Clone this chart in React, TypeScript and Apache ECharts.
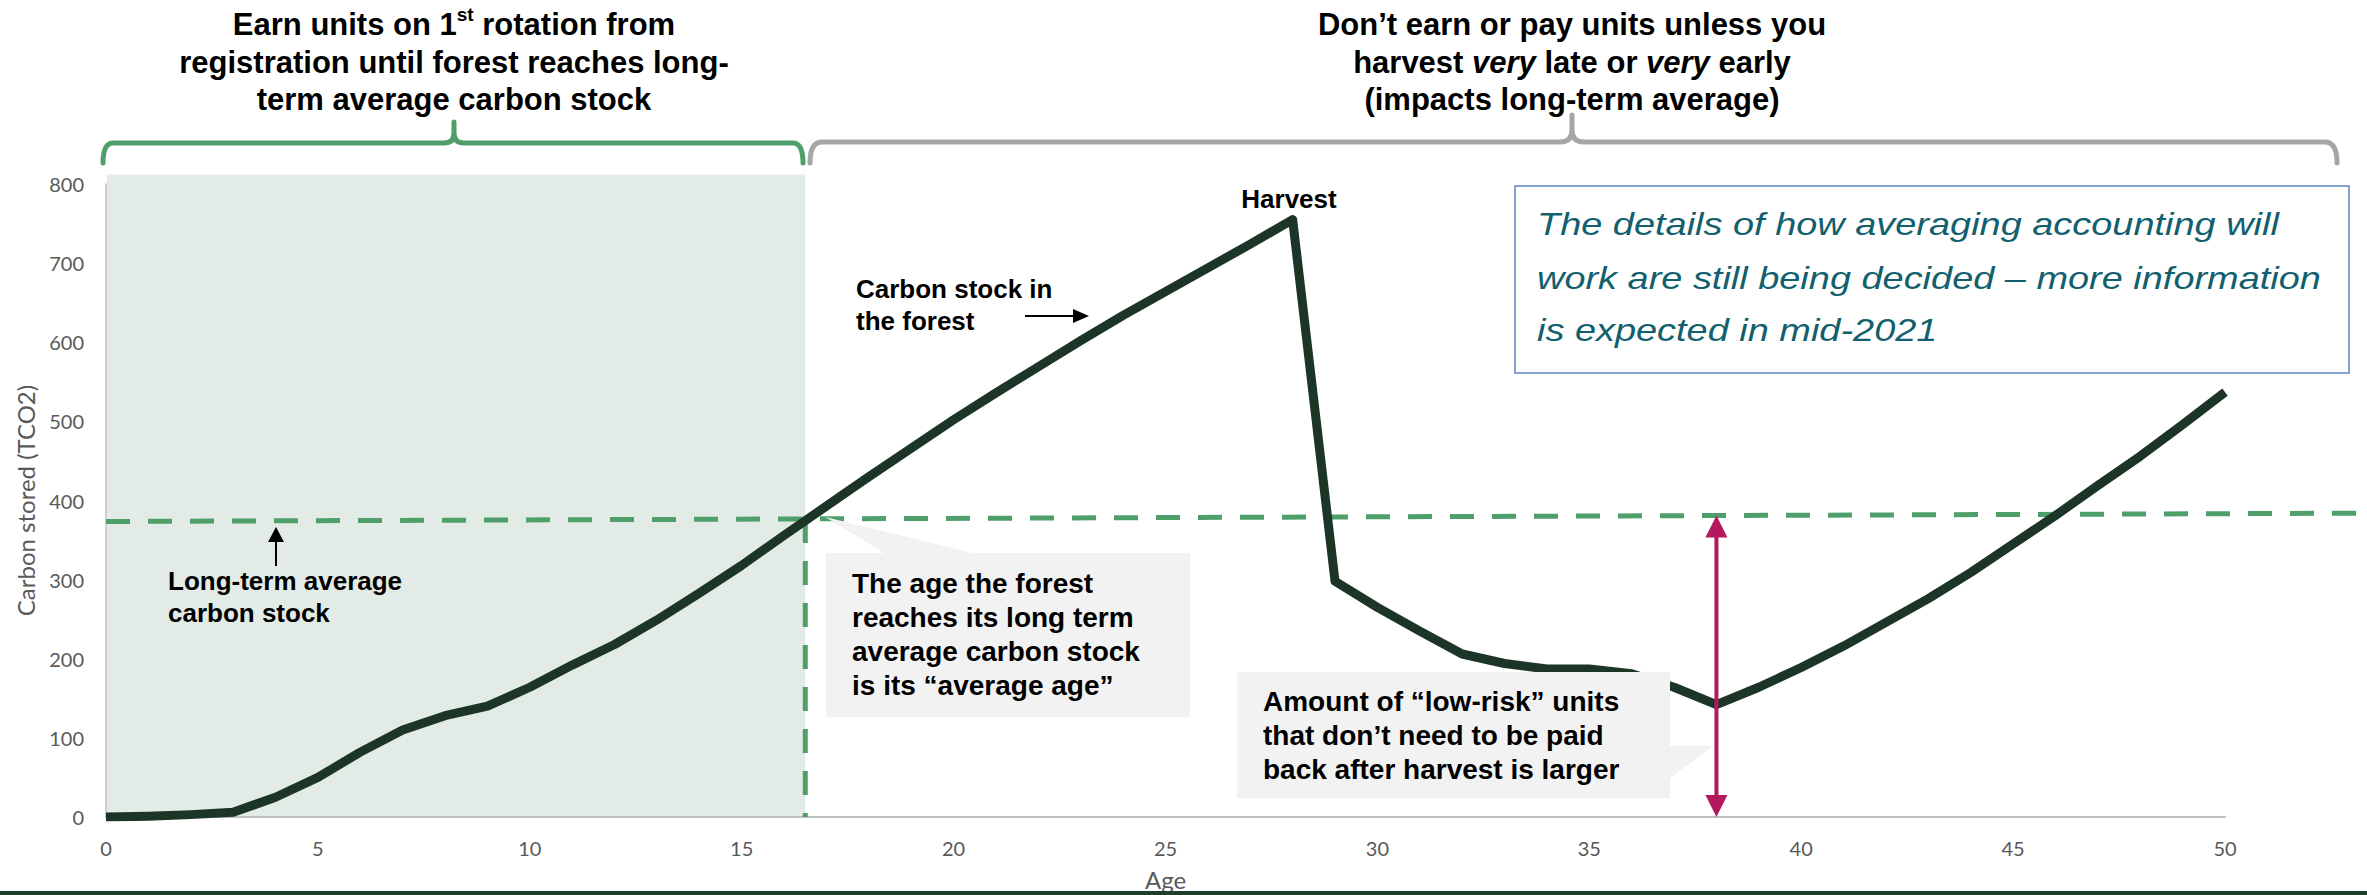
import React, { useEffect, useRef } from "react";
import * as echarts from "echarts";

// Forest age (years) and carbon stored (tCO2): first rotation, harvest at 28, regrowth
const ages = [
  0, 1, 2, 3, 4, 5, 6, 7, 8, 9, 10, 11, 12, 13, 14, 15, 16, 17, 18, 19, 20, 21, 22, 23, 24, 25,
  26, 27, 28, 29, 30, 31, 32, 33, 34, 35, 36, 37, 38, 39, 40, 41, 42, 43, 44, 45, 46, 47, 48, 49, 50,
];
const carbonStored = [
  0, 1, 3, 6, 25, 50, 82, 110, 128, 140, 164, 192, 218, 249, 283, 318, 356, 393, 430, 466, 502, 536,
  569, 602, 634, 664, 694, 724, 755, 298, 265, 235, 206, 194, 187, 187, 181, 164, 142, 164, 189, 216,
  246, 276, 309, 345, 381, 419, 456, 496, 537,
];

// Axis ticks
const xTicks = [0, 5, 10, 15, 20, 25, 30, 35, 40, 45, 50];
const yTicks = [0, 100, 200, 300, 400, 500, 600, 700, 800];

// Long-term average carbon stock line (runs past the last tick to the page edge)
const averageLineAges = [0, 53.4];
const averageLineValues = [373.5, 384];
// Age at which the forest reaches its long-term average carbon stock
const averageAge = 16.5;
// Top of the shaded "earning" period
const shadeTop = 812;
// Age of minimum carbon stock after harvest (low-risk units arrow)
const lowRiskAge = 38;

const averageAt = (age: number) =>
  averageLineValues[0] +
  ((averageLineValues[1] - averageLineValues[0]) * (age - averageLineAges[0])) /
    (averageLineAges[1] - averageLineAges[0]);

const SANS = "Liberation Sans, Arial, Helvetica, sans-serif";
const AXIS_FONT = "Lato, Calibri, sans-serif";
const GREEN = "#4f9f6b";
const GREY_BRACKET = "#a6a6a6";
const LINE_COLOR = "#1d3526";
const MAGENTA = "#b4195f";
const BOX_FILL = "#f2f2f2";
const NOTE_COLOR = "#12606e";

// Brackets above the chart
function bracketPath(x0: number, x1: number, xc: number, yh: number, yEnd: number, yTop: number, r: number) {
  return (
    `M${x0} ${yEnd} Q${x0} ${yh} ${x0 + r} ${yh} L${xc - r} ${yh} Q${xc} ${yh} ${xc} ${yh - r} L${xc} ${yTop} ` +
    `M${xc} ${yh - r} Q${xc} ${yh} ${xc + r} ${yh} L${x1 - r} ${yh} Q${x1} ${yh} ${x1} ${yEnd}`
  );
}
echarts.graphic.registerShape(
  "earnBracket",
  echarts.graphic.extendPath(bracketPath(103, 803, 454, 143, 163, 122, 10), {})
);
echarts.graphic.registerShape(
  "holdBracket",
  echarts.graphic.extendPath(bracketPath(810, 2337, 1572, 142, 163, 115, 12), {})
);

function text(
  x: number,
  y: number,
  content: string,
  o: { size: number; weight?: string; style?: string; color?: string; align?: string; rich?: any; scaleX?: number }
) {
  return {
    type: "text",
    x,
    y,
    z: 20,
    scaleX: o.scaleX ?? 1,
    style: {
      text: content,
      fill: o.color ?? "#000000",
      fontFamily: SANS,
      fontSize: o.size,
      fontWeight: o.weight ?? "bold",
      fontStyle: o.style ?? "normal",
      align: o.align ?? "left",
      textAlign: o.align ?? "left",
      verticalAlign: "middle",
      textVerticalAlign: "middle",
      rich: o.rich,
    },
  };
}

function noteLine(y: number, content: string) {
  return text(1537, y, content, { size: 32, weight: "normal", style: "italic", color: NOTE_COLOR, scaleX: 1.185 });
}

export default function App() {
  const ref = useRef<HTMLDivElement>(null);

  useEffect(() => {
    if (!ref.current) return;
    const chart = echarts.init(ref.current, undefined, { renderer: "svg" });

    const axisLabel = { color: "#595959", fontFamily: AXIS_FONT, fontSize: 20 };
    const dashed = { color: GREEN, width: 5, type: [24, 18], cap: "butt" };

    chart.setOption({
      animation: false,
      backgroundColor: "#ffffff",
      grid: { left: 106, right: 142, top: 184, bottom: 78, outerBoundsMode: "none" },
      xAxis: {
        type: "value",
        min: xTicks[0],
        max: xTicks[xTicks.length - 1],
        interval: xTicks[1] - xTicks[0],
        name: "Age",
        nameLocation: "middle",
        nameGap: 50,
        nameTextStyle: { color: "#595959", fontFamily: AXIS_FONT, fontSize: 24 },
        axisLine: { show: true, lineStyle: { color: "#bfbfbf", width: 2 } },
        axisTick: { show: false },
        splitLine: { show: false },
        axisLabel: { ...axisLabel, margin: 21 },
      },
      yAxis: {
        type: "value",
        min: yTicks[0],
        max: yTicks[yTicks.length - 1],
        interval: yTicks[1] - yTicks[0],
        name: "Carbon stored (TCO2)",
        nameLocation: "middle",
        nameGap: 69,
        nameTextStyle: { color: "#595959", fontFamily: AXIS_FONT, fontSize: 24 },
        axisLine: { show: true, lineStyle: { color: "#bfbfbf", width: 1.5 } },
        axisTick: { show: false },
        splitLine: { show: false },
        axisLabel: { ...axisLabel, margin: 22 },
      },
      series: [
        {
          name: "Average age",
          type: "line",
          data: [
            [averageAge, averageAt(averageAge)],
            [averageAge, 0],
          ],
          showSymbol: false,
          symbol: "none",
          silent: true,
          z: 3,
          lineStyle: dashed,
        },
        {
          name: "Carbon stock in the forest",
          type: "line",
          data: ages.map((a, i) => [a, carbonStored[i]]),
          showSymbol: false,
          symbol: "none",
          z: 4,
          lineStyle: { color: LINE_COLOR, width: 9, join: "round", cap: "butt" },
        },
      ],
    });

    // Linear data -> pixel mapping taken from the chart's own axes, so points
    // past the last tick can be placed too.
    const o = chart.convertToPixel({ gridIndex: 0 }, [0, 0]) as number[];
    const xRef = chart.convertToPixel({ gridIndex: 0 }, [xTicks[xTicks.length - 1], 0]) as number[];
    const yRef = chart.convertToPixel({ gridIndex: 0 }, [0, yTicks[yTicks.length - 1]]) as number[];
    const kx = (xRef[0] - o[0]) / xTicks[xTicks.length - 1];
    const ky = (yRef[1] - o[1]) / yTicks[yTicks.length - 1];
    const px = (x: number, y: number) => [o[0] + x * kx, o[1] + y * ky];

    const shadeA = px(0, shadeTop);
    const shadeB = px(averageAge, 0);
    const cross = px(averageAge, averageAt(averageAge));
    const avgStart = px(averageLineAges[0], averageLineValues[0]);
    const avgEnd = px(averageLineAges[1], averageLineValues[1]);
    const arrowTop = px(lowRiskAge, averageAt(lowRiskAge));
    const arrowBottom = px(lowRiskAge, 0);
    const head = 22;
    const halfHead = 11;

    const elements: any[] = [
      // shaded earning period
      {
        type: "rect",
        z: -1,
        silent: true,
        shape: { x: shadeA[0] + 1, y: shadeA[1], width: shadeB[0] - shadeA[0] - 1, height: shadeB[1] - shadeA[1] },
        style: { fill: "#e2ebe5" },
      },
      // long-term average carbon stock
      {
        type: "line",
        z: 3,
        silent: true,
        shape: { x1: avgStart[0], y1: avgStart[1], x2: avgEnd[0], y2: avgEnd[1] },
        style: { stroke: GREEN, lineWidth: 5, lineDash: [24, 18], lineCap: "butt" },
      },
      // brackets
      { type: "earnBracket", z: 20, style: { fill: "none", stroke: GREEN, lineWidth: 5, lineCap: "round" } },
      { type: "holdBracket", z: 20, style: { fill: "none", stroke: GREY_BRACKET, lineWidth: 5, lineCap: "round" } },

      // headings
      text(454, 24, "{n|Earn units on 1}{s|st}{n| rotation from}", {
        size: 31,
        align: "center",
        rich: {
          n: { fontFamily: SANS, fontSize: 31, fontWeight: "bold", fill: "#000", lineHeight: 38 },
          s: { fontFamily: SANS, fontSize: 19, fontWeight: "bold", fill: "#000", lineHeight: 19, verticalAlign: "top" },
        },
      }),
      text(454, 62, "registration until forest reaches long-", { size: 31, align: "center" }),
      text(454, 99, "term average carbon stock", { size: 31, align: "center" }),
      text(1572, 24, "Don’t earn or pay units unless you", { size: 31, align: "center" }),
      text(1572, 62, "{n|harvest }{i|very}{n| late or }{i|very}{n| early}", {
        size: 31,
        align: "center",
        rich: {
          n: { fontFamily: SANS, fontSize: 31, fontWeight: "bold", fill: "#000" },
          i: { fontFamily: SANS, fontSize: 31, fontWeight: "bold", fontStyle: "italic", fill: "#000" },
        },
      }),
      text(1572, 99, "(impacts long-term average)", { size: 31, align: "center" }),

      // note box
      {
        type: "rect",
        z: 18,
        shape: { x: 1515, y: 186, width: 834, height: 187 },
        style: { fill: "#ffffff", stroke: "#5b86c2", lineWidth: 1.5 },
      },
      noteLine(224, "The details of how averaging accounting will"),
      noteLine(277.5, "work are still being decided – more information"),
      noteLine(330, "is expected in mid-2021"),

      // harvest label
      text(1289, 199, "Harvest", { size: 26, align: "center" }),

      // carbon stock label and arrow
      text(856, 289, "Carbon stock in", { size: 26 }),
      text(856, 321, "the forest", { size: 26 }),
      { type: "line", z: 20, shape: { x1: 1025, y1: 316, x2: 1076, y2: 316 }, style: { stroke: "#000", lineWidth: 2 } },
      { type: "polygon", z: 20, shape: { points: [[1073, 309], [1089, 316], [1073, 323]] }, style: { fill: "#000" } },

      // long-term average label and arrow
      text(168, 581, "Long-term average", { size: 26 }),
      text(168, 612.6, "carbon stock", { size: 26 }),
      { type: "line", z: 20, shape: { x1: 276, y1: 566, x2: 276, y2: 540 }, style: { stroke: "#000", lineWidth: 2 } },
      { type: "polygon", z: 20, shape: { points: [[268, 542], [276, 527], [284, 542]] }, style: { fill: "#000" } },

      // average age callout
      {
        type: "polygon",
        z: 16,
        shape: { points: [[886, 554], [977, 554], [cross[0] + 20, cross[1] - 2]] },
        style: { fill: BOX_FILL },
      },
      { type: "rect", z: 16, shape: { x: 826, y: 553, width: 364, height: 164 }, style: { fill: BOX_FILL } },
      text(852, 583.5, "The age the forest", { size: 28 }),
      text(852, 617.5, "reaches its long term", { size: 28 }),
      text(852, 651.2, "average carbon stock", { size: 28 }),
      text(852, 685.2, "is its “average age”", { size: 28 }),

      // low-risk units callout
      {
        type: "polygon",
        z: 16,
        shape: { points: [[1669, 746], [arrowTop[0] - 3, 746], [1669, 779]] },
        style: { fill: BOX_FILL },
      },
      { type: "rect", z: 16, shape: { x: 1237, y: 672, width: 433, height: 126 }, style: { fill: BOX_FILL } },
      text(1263, 701, "Amount of “low-risk” units", { size: 28 }),
      text(1263, 735, "that don’t need to be paid", { size: 28 }),
      text(1263, 769, "back after harvest is larger", { size: 28 }),

      // double-headed arrow between low point and long-term average
      {
        type: "line",
        z: 19,
        shape: { x1: arrowTop[0], y1: arrowTop[1] + head - 2, x2: arrowBottom[0], y2: arrowBottom[1] - head + 2 },
        style: { stroke: MAGENTA, lineWidth: 4 },
      },
      {
        type: "polygon",
        z: 19,
        shape: {
          points: [
            [arrowTop[0] - halfHead, arrowTop[1] + head],
            [arrowTop[0], arrowTop[1]],
            [arrowTop[0] + halfHead, arrowTop[1] + head],
          ],
        },
        style: { fill: MAGENTA },
      },
      {
        type: "polygon",
        z: 19,
        shape: {
          points: [
            [arrowBottom[0] - halfHead, arrowBottom[1] - head],
            [arrowBottom[0], arrowBottom[1]],
            [arrowBottom[0] + halfHead, arrowBottom[1] - head],
          ],
        },
        style: { fill: MAGENTA },
      },

      // footer rule
      { type: "rect", z: 20, shape: { x: 0, y: 891, width: 2367, height: 4 }, style: { fill: "#1f3d2b" } },
    ];

    chart.setOption({ graphic: { elements } });

    return () => chart.dispose();
  }, []);

  return (
    <div
      ref={ref}
      style={{ position: "fixed", left: 0, top: 0, width: 2367, height: 895, background: "#ffffff" }}
    />
  );
}
